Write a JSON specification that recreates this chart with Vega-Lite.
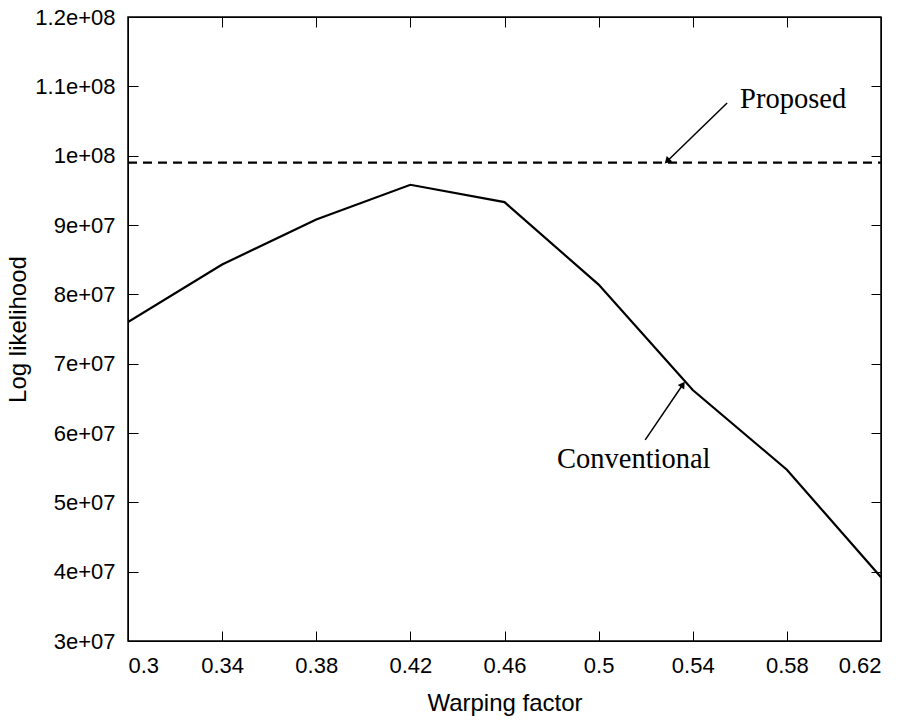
{
  "$schema": "https://vega.github.io/schema/vega-lite/v6.json",
  "width": 753,
  "height": 624,
  "autosize": {"type": "none"},
  "padding": {"left": 128, "top": 17, "right": 26, "bottom": 81},
  "background": "white",
  "config": {
    "view": {"stroke": "black", "strokeWidth": 1.5},
    "axis": {
      "grid": false,
      "domainColor": "black",
      "tickColor": "black",
      "tickSize": -10,
      "labelFont": "Liberation Sans",
      "labelFontSize": 22,
      "labelColor": "black",
      "titleFont": "Liberation Sans",
      "titleFontSize": 24,
      "titleFontWeight": "normal",
      "titleColor": "black"
    }
  },
  "datasets": {
    "conv": [
      {"w": 0.30, "ll": 76000000},
      {"w": 0.34, "ll": 84300000},
      {"w": 0.38, "ll": 90800000},
      {"w": 0.42, "ll": 95800000},
      {"w": 0.46, "ll": 93300000},
      {"w": 0.50, "ll": 81400000},
      {"w": 0.54, "ll": 66200000},
      {"w": 0.58, "ll": 54700000},
      {"w": 0.62, "ll": 39200000}
    ],
    "prop": [
      {"w": 0.30, "ll": 99000000},
      {"w": 0.62, "ll": 99000000}
    ],
    "arrows": [
      {"id": "p", "x1": 0.5546, "y1": 107600000, "x2": 0.5291, "y2": 99200000, "angle": 225},
      {"id": "c", "x1": 0.5198, "y1": 59000000, "x2": 0.5358, "y2": 67000000, "angle": 34}
    ],
    "labels": [
      {"t": "Proposed", "x": 0.5601, "y": 106900000},
      {"t": "Conventional", "x": 0.4823, "y": 54950000}
    ]
  },
  "layer": [
    {
      "data": {"name": "conv"},
      "mark": {"type": "line", "color": "black", "strokeWidth": 2.2, "clip": true},
      "encoding": {
        "x": {
          "field": "w", "type": "quantitative",
          "scale": {"domain": [0.3, 0.62], "nice": false, "zero": false},
          "axis": {"title": "Warping factor", "values": [0.3, 0.34, 0.38, 0.42, 0.46, 0.5, 0.54, 0.58, 0.62], "format": "~g", "labelPadding": 24, "titlePadding": 15}
        },
        "y": {
          "field": "ll", "type": "quantitative",
          "scale": {"domain": [30000000, 120000000], "nice": false, "zero": false},
          "axis": {"title": "Log likelihood", "values": [30000000, 40000000, 50000000, 60000000, 70000000, 80000000, 90000000, 100000000, 110000000, 120000000], "labelExpr": "replace(format(datum.value, '~e'), 'e+', 'e+0')", "labelPadding": 23, "titlePadding": 4}
        }
      }
    },
    {
      "data": {"name": "prop"},
      "mark": {"type": "line", "color": "black", "strokeWidth": 2.2, "strokeDash": [9, 6]},
      "encoding": {
        "x": {"field": "w", "type": "quantitative", "axis": {"orient": "top", "labels": false, "title": null, "values": [0.3, 0.34, 0.38, 0.42, 0.46, 0.5, 0.54, 0.58, 0.62]}},
        "y": {"field": "ll", "type": "quantitative", "axis": {"orient": "right", "labels": false, "title": null, "values": [30000000, 40000000, 50000000, 60000000, 70000000, 80000000, 90000000, 100000000, 110000000, 120000000]}}
      }
    },
    {
      "data": {"name": "arrows"},
      "mark": {"type": "rule", "color": "black", "strokeWidth": 1.5},
      "encoding": {
        "x": {"field": "x1", "type": "quantitative", "axis": null},
        "y": {"field": "y1", "type": "quantitative", "axis": null},
        "x2": {"field": "x2"},
        "y2": {"field": "y2"}
      }
    },
    {
      "data": {"name": "arrows"},
      "mark": {"type": "point", "shape": "triangle-up", "filled": true, "color": "black", "size": 60, "opacity": 1},
      "encoding": {
        "x": {"field": "x2", "type": "quantitative", "axis": null},
        "y": {"field": "y2", "type": "quantitative", "axis": null},
        "angle": {"field": "angle", "type": "quantitative", "scale": null}
      }
    },
    {
      "data": {"name": "labels"},
      "mark": {"type": "text", "font": "Liberation Serif", "fontSize": 28.5, "align": "left", "baseline": "alphabetic", "color": "black"},
      "encoding": {
        "x": {"field": "x", "type": "quantitative", "axis": null},
        "y": {"field": "y", "type": "quantitative", "axis": null},
        "text": {"field": "t"}
      }
    }
  ],
  "resolve": {"axis": {"x": "independent", "y": "independent"}}
}
